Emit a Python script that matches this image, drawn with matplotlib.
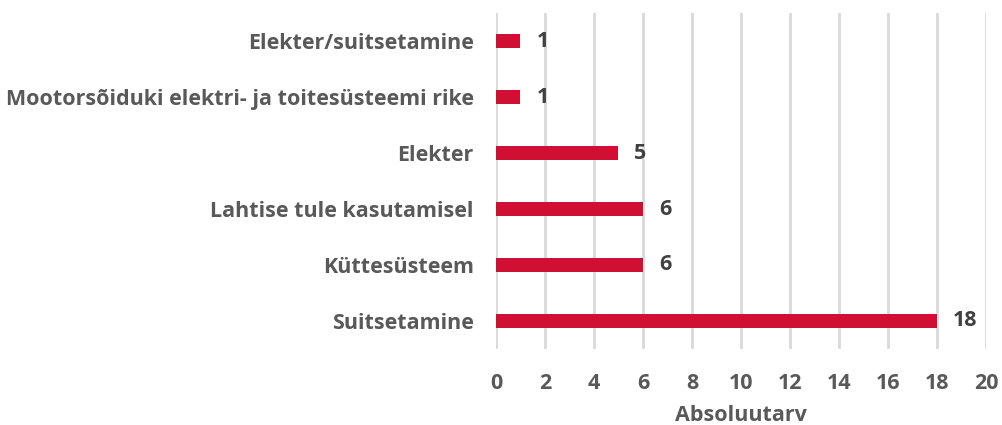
import matplotlib
matplotlib.use("Agg")
import matplotlib.pyplot as plt

# Data (top to bottom as in the chart)
categories = [
    "Elekter/suitsetamine",
    "Mootorsõiduki elektri- ja toitesüsteemi rike",
    "Elekter",
    "Lahtise tule kasutamisel",
    "Küttesüsteem",
    "Suitsetamine",
]
values = [1, 1, 5, 6, 6, 18]
xticks = list(range(0, 22, 2))

bar_color = "#D01033"
text_color = "#595959"
label_color = "#404040"
grid_color = "#D9D9D9"

plt.rcParams["font.family"] = ["Open Sans", "DejaVu Sans"]

fs = 15.5
fig = plt.figure(figsize=(10.02, 4.25), dpi=100)
ax = fig.add_axes([0.495, 0.179, 0.489, 0.79])

# reverse so first category is on top
ypos = list(range(len(categories)))[::-1]
ax.barh(ypos, values, height=0.25, color=bar_color, zorder=3)

for y, v in zip(ypos, values):
    ax.text(v + 0.65, y, str(v), va="center", ha="left", fontsize=fs,
            fontweight="bold", color=label_color)

ax.set_xlim(0, 20)
ax.set_ylim(-0.5, len(categories) - 0.5)
ax.set_xticks(xticks)
ax.set_xticklabels([str(t) for t in xticks], fontsize=fs, fontweight="bold", color=text_color)
ax.set_yticks(ypos)
ax.set_yticklabels(categories, fontsize=fs, fontweight="bold", color=text_color)
ax.tick_params(axis="both", length=0)
ax.tick_params(axis="x", pad=17.5)
ax.tick_params(axis="y", pad=16)

ax.xaxis.grid(True, color=grid_color, linewidth=2, zorder=0)
ax.yaxis.grid(False)
for s in ax.spines.values():
    s.set_visible(False)

ax.set_xlabel("Absoluutarv", fontsize=fs, fontweight="bold", color=text_color, labelpad=8)

fig.savefig("out.png", dpi=100)
